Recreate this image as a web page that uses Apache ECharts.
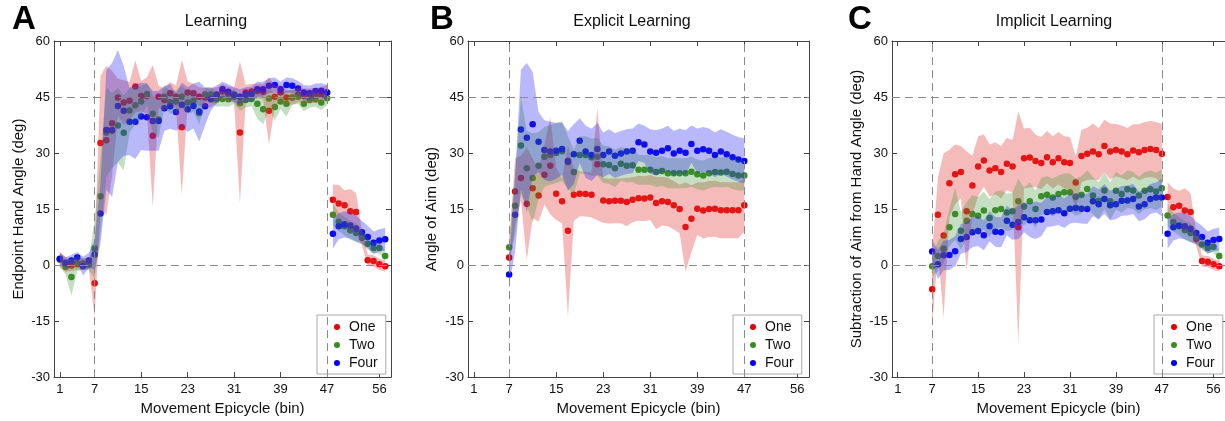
<!DOCTYPE html>
<html>
<head>
<meta charset="utf-8">
<script src="https://cdn.jsdelivr.net/npm/echarts@6/dist/echarts.min.js"></script>
<style>
  html, body { margin: 0; padding: 0; background: #fff; }
  #chart { width: 1225px; height: 421px; }
</style>
</head>
<body>
<div id="chart"></div>
<script>
// bins of the movement epicycle
const bins = [1,2,3,4,5,6,7,8,9,10,11,12,13,14,15,16,17,18,19,20,21,22,23,24,25,26,27,28,29,30,
  31,32,33,34,35,36,37,38,39,40,41,42,43,44,45,46,47,48,49,50,51,52,53,54,55,56,57];
const xTicks = [1, 7, 15, 23, 31, 39, 47, 56];
const groups = ['One', 'Two', 'Four'];

// A - Learning (endpoint hand angle)
const A_one = [1.5, 0.2, -0.1, 0.2, 0.4, 0.4, -4.9,
  32.7, 33.4, 38, 44.9, 43.5, 44, 47.8, 45.3, 45.3, 34.6, 45.1, 44.2, 46, 45.1, 36.9, 46.2, 46, 45.1, 44.9, 44.7,
  45.6, 46.5, 45.8, 45.6, 35.5, 46.2, 46.5, 46.6, 46.4, 41.3, 45.1, 46.3, 44.9, 44.9, 45.6, 45.3, 45.3, 45.4, 45.6, 46.2,
  17.5, 16.5, 16, 14.4, 14.2, 7.3, 1.3, 1.1, 0.2, -0.3];
const A_two = [1.5, -0.5, -3.2, 0.4, 0.2, 0.1, 4.5,
  18.4, 35.5, 36, 37.4, 35.4, 41.4, 42.8, 43.8, 45.8, 40.5, 39, 45.1, 43.6, 43.8, 45.1, 43.5, 44, 40.7, 45.7, 45.7,
  44.4, 44.5, 44.4, 45.1, 43.3, 44.2, 44.5, 43.2, 41.7, 44.6, 42.3, 43.8, 43.2, 44.9, 45.1, 43.2, 44.2, 44.4, 43.5, 44.7,
  13.5, 11.6, 10.4, 9.3, 8.6, 7.6, 5.7, 4.6, 4.6, 2.4];
const A_four = [1.7, 0.6, 1.2, 2, -0.3, 1.2, 2.8,
  13.8, 36.2, 36.2, 42.6, 41.3, 38.4, 38.4, 39.8, 39.6, 38.6, 38.6, 42, 42.5, 41, 42.9, 41.7, 42.6, 41.1, 42.5, 44.4,
  45.6, 47.1, 46.4, 45.6, 45.1, 45.6, 45.8, 47.1, 47.1, 48, 48.2, 47.1, 48.2, 48, 47.3, 46.2, 46, 46.6, 46.7, 46.2,
  8.4, 10.4, 10.9, 10.6, 9.8, 8.8, 7.5, 6, 6.6, 6.9];
const A_one_err = [2, 2, 1.5, 1.5, 1.5, 1.5, 9,
  18, 20, 14, 5, 6, 5, 7, 4, 5, 19, 3, 3, 3, 3, 18, 3, 2.5, 2.5, 2.5, 2.5,
  2, 2, 2, 2, 19, 2, 2, 2, 2, 9, 3, 2, 2, 2, 2, 2, 2, 2, 2, 2,
  4, 5, 4, 6, 5, 2, 1.5, 1.5, 1.5, 1.5];
const A_two_err = [2, 2, 5, 2, 1.5, 1.5, 8,
  10, 12, 10, 10, 10, 6, 5, 4, 3, 5, 5, 3, 3, 3, 3, 3, 3, 3, 2, 2,
  2, 2, 2, 2, 2, 2, 2, 4, 4, 3, 3.5, 2, 3.5, 2, 2, 2, 2, 2, 2, 2,
  3, 2.5, 2.5, 2.5, 2.5, 2, 1.5, 1.5, 1.5, 1.5];
const A_four_err = [1.5, 1.5, 1.5, 1.5, 2.5, 2, 4,
  8, 16, 18, 15, 12, 9, 10, 9, 9, 8, 8, 6, 6, 5, 6, 6, 6, 8, 5, 3,
  2.5, 2, 2, 2, 2, 2, 2, 2, 2, 2, 2, 2, 2, 2, 2, 2, 2, 2, 2, 2,
  4, 3.5, 3.5, 3.5, 3.5, 3, 3, 3, 3, 3];

// B - Explicit learning (angle of aim)
const B_one = [null, null, null, null, null, null, 2,
  19.7, 23.3, 16.4, 20.6, 18.6, 24.2, 26.6, 19.1, 17.1, 9.2, 18.8, 19.1, 19, 18.8, 27, 17.3, 17.1, 17.2, 17.2, 16.9,
  17.5, 17.9, 17.8, 18.1, 16.6, 17.1, 16.9, 16, 15, 10.2, 12.4, 15.1, 14.6, 15, 15.1, 14.7, 14.7, 14.7, 14.7, 16,
  null, null, null, null, null, null, null, null, null, null];
const B_two = [null, null, null, null, null, null, 4.8,
  15.9, 32, 25.9, 23.3, 26.6, 29, 29.5, 30, 30.5, 27.5, 24.9, 29.5, 29.5, 28.9, 29, 27, 26.8, 25.9, 27.1, 26.6,
  26.7, 25.5, 25.5, 25.5, 24.9, 25.2, 24.6, 24.6, 24.6, 24.6, 25, 24.3, 24, 24.6, 24.9, 24.8, 25, 24.4, 24, 24,
  null, null, null, null, null, null, null, null, null, null];
const B_four = [null, null, null, null, null, null, -2.5,
  13.5, 36.3, 34.1, 37.7, 33, 30.8, 30.4, 30.6, 31.1, 27.9, 29.7, 33.3, 30.4, 29.5, 31.1, 29.5, 30.4, 29.3, 29.9, 30.4,
  30.6, 32.9, 32.3, 30.4, 30.1, 30.6, 31.3, 29.9, 30.6, 30.1, 32.4, 30.6, 31, 30.6, 29.5, 30.4, 29.7, 28.9, 28.3, 27.9,
  null, null, null, null, null, null, null, null, null, null];
const B_one_err = [null, null, null, null, null, null, 3,
  9, 6, 15, 8, 7, 8, 13, 7, 6, 23, 7, 6, 6, 6, 15, 6, 6, 6, 6, 6.5,
  6, 6, 6, 6, 7, 6.5, 6.5, 6.5, 6.5, 12, 9, 7, 7.5, 7.5, 7.5, 7.5, 7.5, 7.5, 7.5, 7,
  null, null, null, null, null, null, null, null, null, null];
const B_two_err = [null, null, null, null, null, null, 3,
  8, 13, 10, 12, 9, 8, 8, 8, 8, 7, 6, 5, 5, 5, 5, 5, 5, 5, 4.5, 4.5,
  4.5, 4, 4, 4, 4, 4, 4, 4, 4, 4, 4, 4, 4, 4, 4, 4, 4, 4, 4, 4,
  null, null, null, null, null, null, null, null, null, null];
const B_four_err = [null, null, null, null, null, null, 3,
  10, 16, 20, 14, 8, 8, 8, 7.5, 7, 8, 8, 6, 7, 7, 7, 6, 6, 6, 6, 6,
  6, 5, 5, 6, 6, 6, 6, 6, 6, 6, 5, 6, 6, 6, 6, 6, 6, 6, 6, 6,
  null, null, null, null, null, null, null, null, null, null];

// C - Implicit learning (hand angle minus aim)
const C_one = [null, null, null, null, null, null, -6.5,
  13.5, 7.9, 21.9, 24.3, 24.9, 14.4, 21.3, 26.4, 28, 25.3, 25.9, 24.9, 27.1, 26.4, 10.1, 28.6, 28.8, 27.9, 27.3, 28.9,
  27.5, 28.6, 27.5, 27.3, 22.1, 29.2, 29.8, 30.4, 29.7, 31.9, 30.4, 30.8, 30.4, 29.7, 30.7, 30.2, 30.8, 31.1, 30.8, 29.8,
  18.2, 15.5, 15.9, 14.6, 14.2, 7, 1.1, 0.9, 0.2, -0.3];
const C_two = [null, null, null, null, null, null, -0.3,
  2.4, 4.4, 10.1, 13.7, 9.2, 11.9, 13.7, 13.2, 14.6, 12.6, 14.7, 15, 14.1, 14.4, 17.1, 15.7, 17.1, 15, 18.4, 18.8,
  18.1, 19, 19.5, 19.5, 18.2, 18.8, 20.4, 18.6, 17.2, 20, 17.1, 19.9, 19, 20.3, 20, 18.6, 19.9, 20.3, 19.7, 20.6,
  13.3, 11.5, 10.4, 9.3, 8.6, 7.6, 5.5, 4.6, 4.9, 2.4];
const C_four = [null, null, null, null, null, null, 3.6,
  0.2, 2.6, 2.7, 3.7, 7, 7.5, 8.8, 9.1, 8, 10.4, 8.9, 8.8, 11.9, 10.8, 11.5, 12.8, 12, 12, 12.2, 14.2,
  14.4, 14.7, 13.9, 15.1, 15.3, 15.1, 15, 17.1, 16.3, 17.7, 16, 16.3, 17.2, 17.3, 17.7, 15.7, 16.3, 17.7, 18.1, 18.1,
  8.4, 10.1, 10.6, 10.4, 9.7, 8.6, 7.5, 6, 6.7, 7];
const C_one_err = [null, null, null, null, null, null, 10,
  10, 22, 9, 8, 7, 16, 8, 8, 7, 7, 7, 7, 7, 7, 31, 8, 8, 7, 7, 7,
  7, 7, 7, 7, 7, 7, 7, 7.5, 7, 7, 7.5, 7, 7, 7, 7, 7.5, 7.5, 7.5, 7.5, 8,
  4, 5, 4, 6, 5, 2, 1.5, 1.5, 1.5, 1.5];
const C_two_err = [null, null, null, null, null, null, 3,
  4, 4, 5, 7, 5, 5, 5, 5, 5, 5, 5, 5, 5, 5, 6, 5, 5, 5, 5, 5,
  5, 5, 5, 5, 5, 5, 5, 5, 5, 5, 5, 5, 5, 5, 5, 5, 5, 5, 5, 5,
  3, 2.5, 2.5, 2.5, 2.5, 2, 1.5, 1.5, 1.5, 1.5];
const C_four_err = [null, null, null, null, null, null, 3,
  4, 4, 4, 4, 4, 4, 4, 4, 4, 4, 4, 4, 4, 4, 4.5, 4, 4.5, 5, 4.5, 4,
  4, 4, 4, 4, 4, 4, 4, 4, 4, 4, 4, 4, 4, 4, 4, 4, 4, 4, 4, 5,
  4, 3.5, 3.5, 3.5, 3.5, 3, 3, 3, 3, 3];

const colors = ['#e30000', '#3a8a26', '#0000ee'];
const fills = ['rgba(225,60,60,0.35)', 'rgba(60,150,50,0.3)', 'rgba(40,40,240,0.33)'];
const font = '"Liberation Sans", Arial, Helvetica, sans-serif';
const axisColor = '#444';

const panels = [
  { left: 54, width: 337, title: 'Learning', titleX: 216, letter: 'A', letterX: 12,
    yName: 'Endpoint Hand Angle (deg)', yGap: 28, legendX: 317,
    means: [A_one, A_two, A_four], errs: [A_one_err, A_two_err, A_four_err], segs: [[1, 47], [48, 57]] },
  { left: 468, width: 341, title: 'Explicit Learning', titleX: 632, letter: 'B', letterX: 430,
    yName: 'Angle of Aim (deg)', yGap: 29, legendX: 733,
    means: [B_one, B_two, B_four], errs: [B_one_err, B_two_err, B_four_err], segs: [[7, 47]] },
  { left: 892, width: 338, title: 'Implicit Learning', titleX: 1054, letter: 'C', letterX: 848,
    yName: 'Subtraction of Aim from Hand Angle (deg)', yGap: 28, legendX: 1154,
    means: [C_one, C_two, C_four], errs: [C_one_err, C_two_err, C_four_err], segs: [[7, 47], [48, 57]] }
];

// shaded band (mean +- err) drawn as polygons through the axis coordinates
function bandRender(mean, err, segs, fill) {
  return function (params, api) {
    if (params.dataIndex !== 0) return null;
    const children = [];
    segs.forEach(function (s) {
      const top = [], bot = [];
      for (let i = 0; i < bins.length; i++) {
        if (bins[i] < s[0] || bins[i] > s[1] || mean[i] == null) continue;
        top.push(api.coord([bins[i], mean[i] + err[i]]));
        bot.unshift(api.coord([bins[i], mean[i] - err[i]]));
      }
      if (top.length) {
        children.push({ type: 'polygon', shape: { points: top.concat(bot) }, style: { fill: fill, stroke: null } });
      }
    });
    return { type: 'group', children: children };
  };
}

const grids = [], xAxes = [], yAxes = [], series = [], legends = [], texts = [];

panels.forEach(function (p, k) {
  grids.push({ left: p.left, top: 41, width: p.width, height: 337 });
  const tick = { show: true, inside: true, length: 5, lineStyle: { color: axisColor } };
  const line = { show: true, onZero: false, lineStyle: { color: axisColor, width: 1 } };
  xAxes.push({
    gridIndex: k, type: 'value', min: 0, max: 58,
    name: 'Movement Epicycle (bin)', nameLocation: 'middle', nameGap: 23,
    nameTextStyle: { fontSize: 15, color: '#111', fontFamily: font },
    axisLine: line, axisTick: Object.assign({ customValues: xTicks }, tick),
    axisLabel: { customValues: xTicks, fontSize: 13, color: '#111', fontFamily: font, margin: 6 },
    splitLine: { show: false }
  });
  xAxes.push({
    gridIndex: k, type: 'value', position: 'top', min: 0, max: 58,
    axisLine: line, axisTick: Object.assign({ customValues: xTicks }, tick),
    axisLabel: { show: false }, splitLine: { show: false }
  });
  yAxes.push({
    gridIndex: k, type: 'value', min: -30, max: 60, interval: 15,
    name: p.yName, nameLocation: 'middle', nameGap: p.yGap,
    nameTextStyle: { fontSize: 15, color: '#111', fontFamily: font },
    axisLine: line, axisTick: tick,
    axisLabel: { fontSize: 13, color: '#111', fontFamily: font, margin: 4 },
    splitLine: { show: false }
  });
  yAxes.push({
    gridIndex: k, type: 'value', position: 'right', min: -30, max: 60, interval: 15,
    axisLine: line, axisTick: tick, axisLabel: { show: false }, splitLine: { show: false }
  });

  groups.forEach(function (g, j) {
    const pts = [];
    bins.forEach(function (b, i) { if (p.means[j][i] != null) pts.push([b, p.means[j][i]]); });
    const s = {
      type: 'scatter', name: g, xAxisIndex: 2 * k, yAxisIndex: 2 * k, z: 2,
      symbol: 'circle', symbolSize: 6.5, itemStyle: { color: colors[j], opacity: 1 }, data: pts
    };
    if (j === 0) {
      s.markLine = {
        silent: true, symbol: 'none', label: { show: false },
        lineStyle: { color: '#8a8a8a', type: [8, 5], width: 1 },
        data: [{ yAxis: 0 }, { yAxis: 45 }, { xAxis: 7 }, { xAxis: 47 }]
      };
    }
    series.push(s);
    series.push({
      type: 'custom', xAxisIndex: 2 * k, yAxisIndex: 2 * k, z: 3, silent: true,
      data: pts, renderItem: bandRender(p.means[j], p.errs[j], p.segs, fills[j])
    });
  });

  legends.push({
    left: p.legendX, top: 315, orient: 'vertical', data: groups, icon: 'circle',
    itemWidth: 14, itemHeight: 6, itemGap: 4, padding: [5, 8, 4, 17],
    borderColor: '#aaa', borderWidth: 1, borderRadius: 0, backgroundColor: '#fff',
    selectedMode: false, textStyle: { fontSize: 14, color: '#111', fontFamily: font }
  });

  texts.push({ type: 'text', x: p.titleX, y: 22, z: 10,
    style: { text: p.title, fill: '#111', fontSize: 16, fontFamily: font, textAlign: 'center', textVerticalAlign: 'middle' } });
  texts.push({ type: 'text', x: p.letterX, y: 20, z: 10,
    style: { text: p.letter, fill: '#000', fontSize: 33, fontWeight: 'bold', fontFamily: font, textAlign: 'left', textVerticalAlign: 'middle' } });
});

const chart = echarts.init(document.getElementById('chart'));
chart.setOption({
  animation: false,
  backgroundColor: '#fff',
  grid: grids,
  xAxis: xAxes,
  yAxis: yAxes,
  legend: legends,
  graphic: texts,
  series: series
});
</script>
</body>
</html>
